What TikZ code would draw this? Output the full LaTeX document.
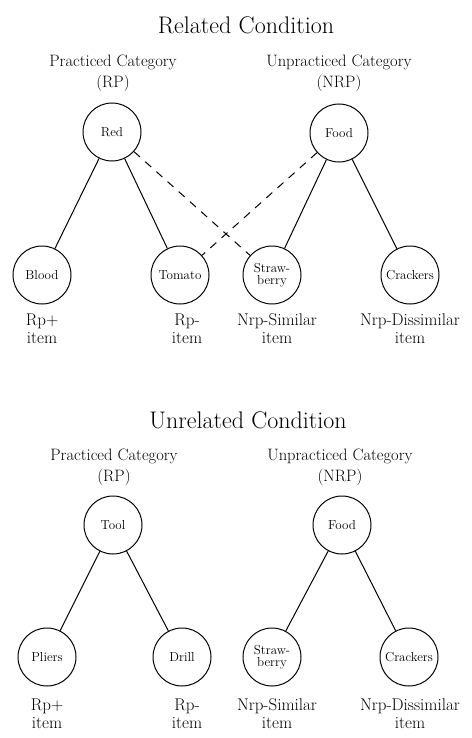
\documentclass[tikz,border=0pt]{standalone}
\usepackage{tikz}

\begin{document}
\begin{tikzpicture}[x=1pt,y=-1pt,line width=1pt,
	item/.style={draw,circle,minimum size=58pt,inner sep=0pt,font=\fontsize{13}{12}\selectfont,align=center},
	head/.style={font=\fontsize{24}{26}\selectfont},
	cat/.style={font=\fontsize{16.5}{21}\selectfont,align=center},
	lab/.style={font=\fontsize{17}{18}\selectfont,align=center},
	link/.style={dash pattern=on 8pt off 7pt}]
	\useasboundingbox (0,0) rectangle (471,738);
	% related condition
	\node[head] (titleA) at (246,25) {Related Condition};
	\node[cat] (rpA) at (113,73) {Practiced Category\\(RP)};
	\node[cat] (nrpA) at (339,73) {Unpracticed Category\\(NRP)};
	\node[item] (red) at (112,132) {Red};
	\node[item] (foodA) at (339,133) {Food};
	\node[item] (blood) at (42,275) {Blood};
	\node[item] (tomato) at (180,275) {Tomato};
	\node[item] (strawA) at (272,275) {Straw-\\berry};
	\node[item] (crackA) at (410,275) {Crackers};
	\draw (red) -- (blood);
	\draw (red) -- (tomato);
	\draw (foodA) -- (strawA);
	\draw (foodA) -- (crackA);
	\draw[link] (red) -- (strawA);
	\draw[link] (foodA) -- (tomato);
	\node[lab] (labA1) at (42,329) {Rp+\\item};
	\node[lab] (labA2) at (187,329) {Rp-\\item};
	\node[lab] (labA3) at (277,329) {Nrp-Similar\\item};
	\node[lab] (labA4) at (410,329) {Nrp-Dissimilar\\item};
	% unrelated condition
	\node[head] (titleB) at (248,420) {Unrelated Condition};
	\node[cat] (rpB) at (114,467) {Practiced Category\\(RP)};
	\node[cat] (nrpB) at (340,467) {Unpracticed Category\\(NRP)};
	\node[item] (tool) at (113,525) {Tool};
	\node[item] (foodB) at (342,525) {Food};
	\node[item] (pliers) at (47,657) {Pliers};
	\node[item] (drill) at (182,657) {Drill};
	\node[item] (strawB) at (272,657) {Straw-\\berry};
	\node[item] (crackB) at (409,657) {Crackers};
	\draw (tool) -- (pliers);
	\draw (tool) -- (drill);
	\draw (foodB) -- (strawB);
	\draw (foodB) -- (crackB);
	\node[lab] (labB1) at (47,714) {Rp+\\item};
	\node[lab] (labB2) at (187,714) {Rp-\\item};
	\node[lab] (labB3) at (277,714) {Nrp-Similar\\item};
	\node[lab] (labB4) at (410,714) {Nrp-Dissimilar\\item};
\end{tikzpicture}
\end{document}
